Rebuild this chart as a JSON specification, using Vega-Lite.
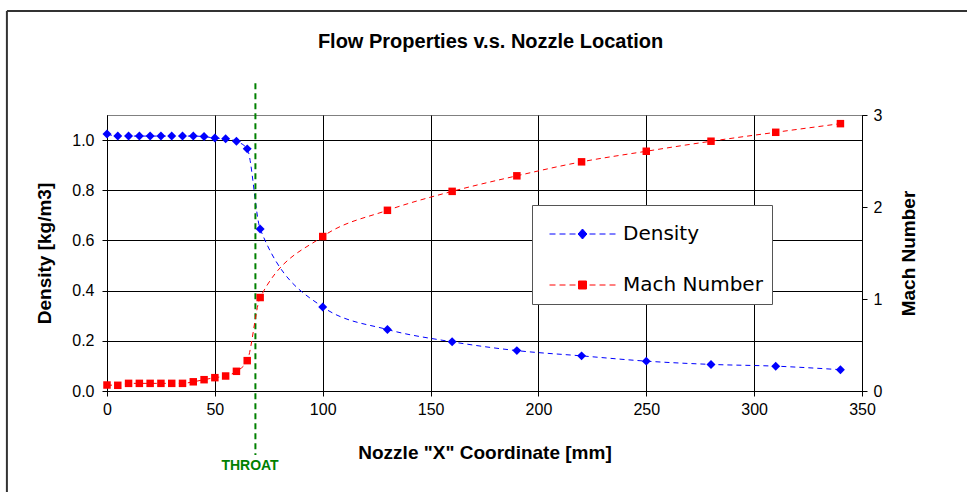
{
  "$schema": "https://vega.github.io/schema/vega-lite/v6.json",
  "width": 755,
  "height": 276,
  "autosize": {"type": "none"},
  "padding": {"left": 107, "top": 115, "right": 105, "bottom": 101},
  "background": "white",
  "title": {
    "text": "Flow Properties v.s. Nozzle Location",
    "font": "Liberation Sans",
    "fontSize": 20,
    "fontWeight": "bold",
    "color": "#000000",
    "anchor": "middle",
    "frame": "group",
    "offset": -58,
    "baseline": "alphabetic",
    "dx": 6
  },
  "config": {
    "view": {"stroke": "#808080", "strokeWidth": 1},
    "axis": {
      "labelFont": "Liberation Sans",
      "labelFontSize": 16,
      "labelColor": "#000000",
      "titleFont": "Liberation Sans",
      "titleFontSize": 19,
      "titleFontWeight": "bold",
      "titleColor": "#000000",
      "domainColor": "#000000",
      "tickColor": "#000000",
      "gridColor": "#000000",
      "gridOpacity": 1,
      "gridWidth": 1,
      "tickSize": 5,
      "labelFlush": false,
      "labelOverlap": false
    }
  },
  "data": {
    "values": [
      {"x": 0, "density": 1.024, "mach": 0.065},
      {"x": 5, "density": 1.016, "mach": 0.062},
      {"x": 10, "density": 1.016, "mach": 0.083},
      {"x": 15, "density": 1.016, "mach": 0.083},
      {"x": 20, "density": 1.016, "mach": 0.083},
      {"x": 25, "density": 1.016, "mach": 0.083},
      {"x": 30, "density": 1.016, "mach": 0.083},
      {"x": 35, "density": 1.016, "mach": 0.083},
      {"x": 40, "density": 1.016, "mach": 0.1},
      {"x": 45, "density": 1.014, "mach": 0.123},
      {"x": 50, "density": 1.008, "mach": 0.145},
      {"x": 55, "density": 1.005, "mach": 0.163},
      {"x": 60, "density": 0.995, "mach": 0.214},
      {"x": 65, "density": 0.965, "mach": 0.33},
      {"x": 71, "density": 0.646, "mach": 1.016},
      {"x": 100, "density": 0.335, "mach": 1.679},
      {"x": 130, "density": 0.245, "mach": 1.964},
      {"x": 160, "density": 0.196, "mach": 2.17},
      {"x": 190, "density": 0.161, "mach": 2.339},
      {"x": 220, "density": 0.14, "mach": 2.491},
      {"x": 250, "density": 0.119, "mach": 2.606},
      {"x": 280, "density": 0.106, "mach": 2.715},
      {"x": 310, "density": 0.099, "mach": 2.812},
      {"x": 340, "density": 0.085, "mach": 2.906}
    ]
  },
  "layer": [
    {
      "layer": [
        {
          "data": {"values": [{}]},
          "mark": {"type": "rule", "color": "#333333", "strokeWidth": 2},
          "encoding": {
            "x": {"datum": -46.4, "type": "quantitative", "title": "Nozzle \"X\" Coordinate [mm]"},
            "x2": {"datum": 420},
            "y": {"datum": 1.514, "type": "quantitative", "title": "Density [kg/m3]"}
          }
        },
        {
          "data": {"values": [{}]},
          "mark": {"type": "rule", "color": "#333333", "strokeWidth": 2},
          "encoding": {
            "x": {"datum": -46.4, "type": "quantitative", "title": "Nozzle \"X\" Coordinate [mm]"},
            "y": {"datum": 1.514, "type": "quantitative", "title": "Density [kg/m3]"},
            "y2": {"datum": -0.7}
          }
        },
        {
          "mark": {"type": "line", "strokeWidth": 1, "strokeDash": [5, 4], "interpolate": "monotone"},
          "encoding": {
            "x": {
              "field": "x", "type": "quantitative",
              "title": "Nozzle \"X\" Coordinate [mm]",
              "scale": {"domain": [0, 350], "nice": false, "zero": false},
              "axis": {
                "values": [0, 50, 100, 150, 200, 250, 300, 350],
                "grid": true,
                "labelPadding": 5,
                "titlePadding": 26
              }
            },
            "y": {
              "field": "density", "type": "quantitative",
              "title": "Density [kg/m3]",
              "scale": {"domain": [0, 1.1], "nice": false},
              "axis": {
                "values": [0, 0.2, 0.4, 0.6, 0.8, 1.0],
                "format": ".1f",
                "grid": true,
                "labelPadding": 8,
                "titlePadding": 17
              }
            },
            "color": {
              "datum": "Density",
              "scale": {"domain": ["Density", "Mach Number"], "range": ["#0000FF", "#FF0000"]},
              "legend": {
                "orient": "none",
                "legendX": 425,
                "legendY": 90,
                "title": null,
                "padding": 8.5,
                "fillColor": "#FFFFFF",
                "strokeColor": "#555555",
                "symbolSize": 1600,
                "symbolOffset": 21.5,
                "labelOffset": 20,
                "rowPadding": 20,
                "labelFont": "DejaVu Sans",
                "labelFontSize": 20,
                "labelColor": "#000000",
                "labelLimit": 400,
                "encode": {
                  "symbols": {
                    "update": {
                      "shape": {"signal": "datum.value === 'Density' ? 'M-1.65,0L-1.35,0M-1.15,0L-0.85,0M-0.65,0L-0.35,0M0.35,0L0.65,0M0.85,0L1.15,0M1.35,0L1.65,0M0,-0.25L0.22,0L0,0.25L-0.22,0Z' : 'M-1.65,0L-1.35,0M-1.15,0L-0.85,0M-0.65,0L-0.35,0M0.35,0L0.65,0M0.85,0L1.15,0M1.35,0L1.65,0M-0.2,-0.2L0.2,-0.2L0.2,0.2L-0.2,0.2Z'"},
                      "fill": {"signal": "datum.value === 'Density' ? '#0000FF' : '#FF0000'"},
                      "stroke": {"signal": "datum.value === 'Density' ? '#0000FF' : '#FF0000'"},
                      "strokeWidth": {"value": 1},
                      "strokeDash": {"value": []},
                      "opacity": {"value": 1},
                      "fillOpacity": {"value": 1}
                    }
                  }
                }
              }
            }
          }
        },
        {
          "mark": {"type": "point", "shape": "diamond", "filled": true, "size": 80, "opacity": 1},
          "encoding": {
            "x": {"field": "x", "type": "quantitative", "title": "Nozzle \"X\" Coordinate [mm]"},
            "y": {"field": "density", "type": "quantitative", "title": "Density [kg/m3]"},
            "color": {"datum": "Density"}
          }
        },
        {
          "data": {"values": [{}]},
          "mark": {"type": "rule", "color": "#008000", "strokeWidth": 2, "strokeDash": [6, 4]},
          "encoding": {
            "x": {"datum": 68.8, "type": "quantitative", "title": "Nozzle \"X\" Coordinate [mm]"},
            "y": {"datum": 1.227, "type": "quantitative", "title": "Density [kg/m3]"},
            "y2": {"datum": -0.255}
          }
        },
        {
          "data": {"values": [{}]},
          "mark": {"type": "text", "text": "THROAT", "color": "#008000", "font": "Liberation Sans", "fontSize": 14, "fontWeight": "bold", "align": "center", "baseline": "middle"},
          "encoding": {
            "x": {"datum": 66.3, "type": "quantitative", "title": "Nozzle \"X\" Coordinate [mm]"},
            "y": {"datum": -0.299, "type": "quantitative", "title": "Density [kg/m3]"}
          }
        }
      ]
    },
    {
      "layer": [
        {
          "mark": {"type": "line", "strokeWidth": 1, "strokeDash": [5, 4], "interpolate": "monotone"},
          "encoding": {
            "x": {"field": "x", "type": "quantitative", "title": "Nozzle \"X\" Coordinate [mm]"},
            "y": {
              "field": "mach", "type": "quantitative",
              "title": "Mach Number",
              "scale": {"domain": [0, 3], "nice": false},
              "axis": {
                "orient": "right",
                "values": [0, 1, 2, 3],
                "format": "d",
                "grid": false,
                "labelPadding": 6,
                "titlePadding": 18,
                "titleAngle": -90,
                "titleBaseline": "top"
              }
            },
            "color": {"datum": "Mach Number"}
          }
        },
        {
          "mark": {"type": "point", "shape": "square", "filled": true, "size": 56, "opacity": 1},
          "encoding": {
            "x": {"field": "x", "type": "quantitative", "title": "Nozzle \"X\" Coordinate [mm]"},
            "y": {"field": "mach", "type": "quantitative", "title": "Mach Number"},
            "color": {"datum": "Mach Number"}
          }
        }
      ]
    }
  ],
  "resolve": {"scale": {"y": "independent"}}
}
